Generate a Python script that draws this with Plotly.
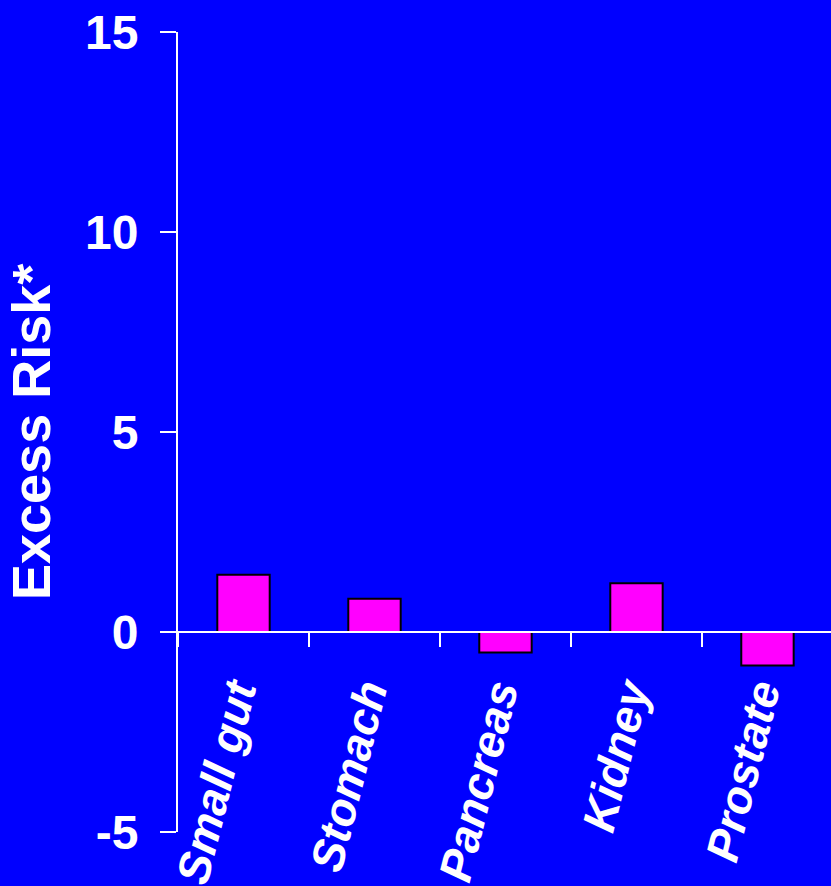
import plotly.graph_objects as go

categories = ["Small gut", "Stomach", "Pancreas", "Kidney", "Prostate"]
excess_risk = [1.43, 0.83, -0.51, 1.22, -0.84]
y_ticks = [-5, 0, 5, 10, 15]
y_title = "Excess Risk*"

FONT = "Liberation Sans, Arial, Helvetica, sans-serif"
BG = "#0000FF"

fig = go.Figure()
fig.add_trace(go.Bar(
    x=categories,
    y=excess_risk,
    width=0.4,
    marker=dict(color="#FF00FF", line=dict(color="black", width=2)),
))

fig.update_layout(
    width=831, height=886,
    paper_bgcolor=BG, plot_bgcolor=BG,
    margin=dict(l=178, r=0, t=32, b=54, autoexpand=False),
    showlegend=False,
)

fig.update_yaxes(
    range=[-5, 15],
    tickvals=y_ticks,
    ticktext=[str(v) for v in y_ticks],
    showgrid=False, zeroline=False, automargin=False,
    showline=True, linecolor="white", linewidth=2,
    ticks="outside", ticklen=16, tickwidth=2, tickcolor="white",
    ticklabelstandoff=12,
    tickfont=dict(family=FONT, size=48, color="white", weight="bold"),
)

# axis title placed as a rotated annotation for precise positioning
fig.add_annotation(
    text=y_title, textangle=-90,
    xref="paper", yref="paper", x=0, y=0.5,
    xanchor="center", yanchor="middle", xshift=-147, showarrow=False,
    font=dict(family=FONT, size=54, color="white", weight="bold"),
)

fig.update_xaxes(
    type="category",
    range=[-0.5, 4.485],
    anchor="free", position=0.25,
    showgrid=False, zeroline=False, automargin=False,
    showline=True, linecolor="white", linewidth=2,
    layer="above traces",
    ticks="outside", tickson="boundaries", ticklen=14, tickwidth=2, tickcolor="white",
    tickangle=-76,
    ticklabelstandoff=15,
    ticklabelshift=-9,
    tickfont=dict(family=FONT, size=46, color="white", weight="bold", style="italic"),
)

fig.write_html(
    "out.html",
    config={"displayModeBar": False},
    post_script="document.body.style.margin='0';document.body.style.background='#0000FF';",
)
